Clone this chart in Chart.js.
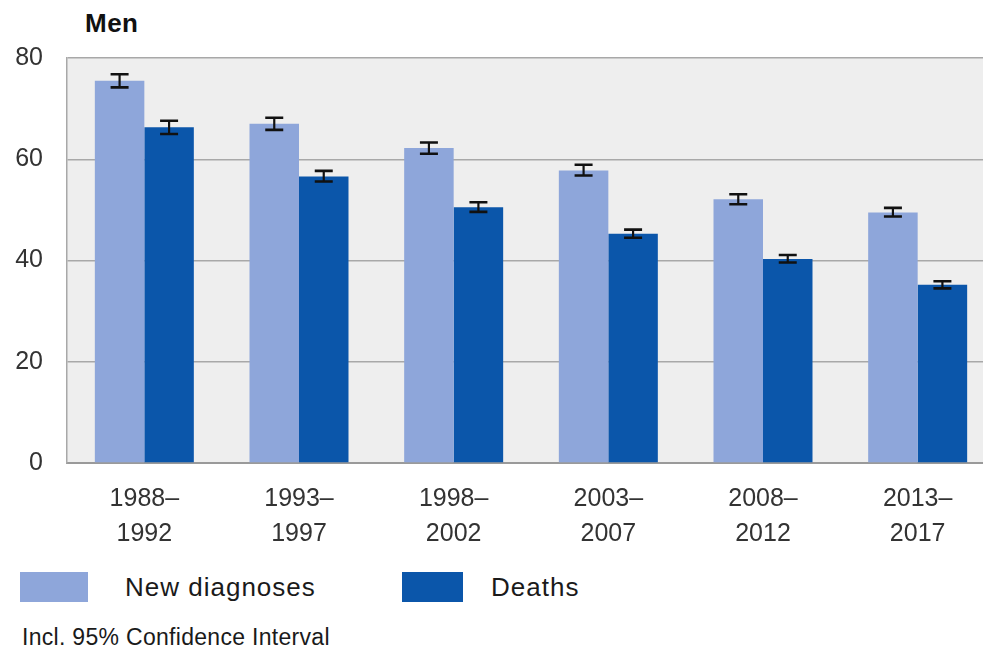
<!DOCTYPE html>
<html>
<head>
<meta charset="utf-8">
<script src="https://cdn.jsdelivr.net/npm/chart.js@4.4.1/dist/chart.umd.min.js"></script>
<style>
  html, body { margin: 0; padding: 0; background: #ffffff; overflow: hidden; }
  body { width: 983px; height: 653px; position: relative; font-family: "Liberation Sans", Arial, sans-serif; }
  #wrap { position: absolute; left: 0; top: 0; width: 1000px; height: 560px; }
  .title { position: absolute; left: 85px; top: 8px; font-size: 26px; font-weight: bold; color: #111; letter-spacing: 0.5px; }
  .legend { position: absolute; top: 572px; left: 0; width: 983px; height: 30px; }
  .swatch { position: absolute; top: 0; height: 30px; }
  .ltext { position: absolute; top: 0; line-height: 30px; font-size: 26px; color: #1a1a1a; letter-spacing: 1px; }
  .note { position: absolute; left: 22px; top: 624px; font-size: 23px; color: #1a1a1a; letter-spacing: 0.3px; }
</style>
</head>
<body>
<div class="title">Men</div>
<div id="wrap"><canvas id="chart" width="1000" height="560"></canvas></div>
<div class="legend" id="legend"></div>
<div class="note">Incl. 95% Confidence Interval</div>
<script>
// Periods (two-line tick labels)
const categories = [
  ['1988–', '1992'],
  ['1993–', '1997'],
  ['1998–', '2002'],
  ['2003–', '2007'],
  ['2008–', '2012'],
  ['2013–', '2017']
];

// Rates per period
const newDiagnoses = [75.5, 67.0, 62.2, 57.8, 52.1, 49.5];
const deaths       = [66.3, 56.6, 50.5, 45.3, 40.3, 35.2];

// 95% confidence interval bounds
const newDiagnosesLow  = [74.2, 65.8, 61.1, 56.8, 51.1, 48.7];
const newDiagnosesHigh = [76.8, 68.2, 63.3, 58.9, 53.1, 50.4];
const deathsLow        = [65.0, 55.6, 49.6, 44.5, 39.6, 34.5];
const deathsHigh       = [67.6, 57.7, 51.5, 46.1, 41.1, 35.9];

// Y axis ticks
const yTicks = [0, 20, 40, 60, 80];

const seriesNames = ['New diagnoses', 'Deaths'];
const seriesColors = ['#8ea6da', '#0b56aa'];

// Plot area background
const plotBackground = {
  id: 'plotBackground',
  beforeDraw(chart) {
    const { ctx, chartArea: a } = chart;
    ctx.save();
    ctx.fillStyle = '#eeeeee';
    ctx.fillRect(a.left, a.top, a.right - a.left, a.bottom - a.top);
    ctx.restore();
  }
};

// Confidence interval whiskers
const errorBars = {
  id: 'errorBars',
  afterDatasetsDraw(chart) {
    const { ctx } = chart;
    const y = chart.scales.y;
    const bounds = [[newDiagnosesLow, newDiagnosesHigh], [deathsLow, deathsHigh]];
    ctx.save();
    ctx.strokeStyle = '#111111';
    ctx.lineCap = 'butt';
    chart.data.datasets.forEach((ds, di) => {
      const meta = chart.getDatasetMeta(di);
      meta.data.forEach((bar, i) => {
        const lo = y.getPixelForValue(bounds[di][0][i]);
        const hi = y.getPixelForValue(bounds[di][1][i]);
        const x = bar.x;
        const half = 9;
        ctx.lineWidth = 2.2;
        ctx.beginPath();
        ctx.moveTo(x, lo); ctx.lineTo(x, hi);
        ctx.stroke();
        ctx.lineWidth = 2.6;
        ctx.beginPath();
        ctx.moveTo(x - half, hi); ctx.lineTo(x + half, hi);
        ctx.moveTo(x - half, lo); ctx.lineTo(x + half, lo);
        ctx.stroke();
      });
    });
    ctx.restore();
  }
};

new Chart(document.getElementById('chart'), {
  type: 'bar',
  data: {
    labels: categories,
    datasets: [
      { label: seriesNames[0], data: newDiagnoses, backgroundColor: seriesColors[0] },
      { label: seriesNames[1], data: deaths, backgroundColor: seriesColors[1] }
    ]
  },
  options: {
    responsive: false,
    animation: false,
    devicePixelRatio: 1,
    layout: { padding: { left: 0, top: 58, right: 5, bottom: 0 } },
    datasets: { bar: { categoryPercentage: 0.64, barPercentage: 1.0 } },
    plugins: { legend: { display: false }, tooltip: { enabled: false } },
    scales: {
      x: {
        offset: true,
        grid: { display: false },
        border: { display: true, color: '#9a9a9a', width: 2 },
        ticks: {
          autoSkip: false, maxRotation: 0, minRotation: 0,
          color: '#333333', padding: 11,
          font: { family: '"Liberation Sans", Arial, sans-serif', size: 25, lineHeight: 1.38 }
        },
        afterFit(scale) { scale.height = 97; }
      },
      y: {
        min: 0, max: 80,
        afterBuildTicks(scale) { scale.ticks = yTicks.map(v => ({ value: v })); },
        grid: { color: '#a8a8a8', lineWidth: 1.5, drawTicks: false },
        border: { display: true, color: '#a8a8a8', width: 1.5 },
        ticks: {
          color: '#333333', padding: 24,
          font: { family: '"Liberation Sans", Arial, sans-serif', size: 25 }
        },
        afterFit(scale) { scale.width = 67; }
      }
    }
  },
  plugins: [plotBackground, errorBars]
});

// Legend built from the series names and colours
const legend = document.getElementById('legend');
const legendLayout = [
  { swatchLeft: 20, swatchWidth: 68, textLeft: 125 },
  { swatchLeft: 402, swatchWidth: 61, textLeft: 491 }
];
seriesNames.forEach((name, i) => {
  const sw = document.createElement('div');
  sw.className = 'swatch';
  sw.style.left = legendLayout[i].swatchLeft + 'px';
  sw.style.width = legendLayout[i].swatchWidth + 'px';
  sw.style.background = seriesColors[i];
  legend.appendChild(sw);
  const t = document.createElement('div');
  t.className = 'ltext';
  t.style.left = legendLayout[i].textLeft + 'px';
  t.textContent = name;
  legend.appendChild(t);
});
</script>
</body>
</html>
